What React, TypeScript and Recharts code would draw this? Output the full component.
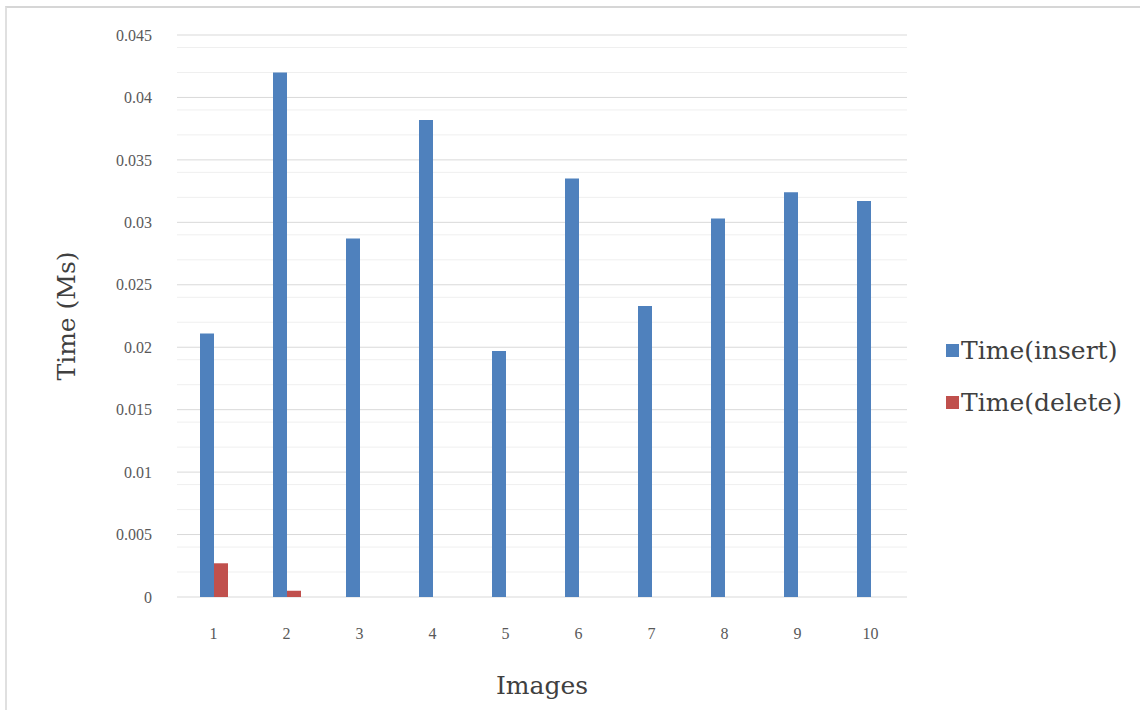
import React from 'react';
import { BarChart, Bar, CartesianGrid, XAxis, YAxis, Legend } from 'recharts';

const images = ['1', '2', '3', '4', '5', '6', '7', '8', '9', '10'];
const insertTimes = [0.0211, 0.042, 0.0287, 0.0382, 0.0197, 0.0335, 0.0233, 0.0303, 0.0324, 0.0317];
const deleteTimes = [0.0027, 0.0005, 0, 0, 0, 0, 0, 0, 0, 0];
const majorTicks = [0, 0.005, 0.01, 0.015, 0.02, 0.025, 0.03, 0.035, 0.04, 0.045];
const minorTicks = [
  0.001, 0.002, 0.003, 0.004, 0.006, 0.007, 0.008, 0.009,
  0.011, 0.012, 0.013, 0.014, 0.016, 0.017, 0.018, 0.019,
  0.021, 0.022, 0.023, 0.024, 0.026, 0.027, 0.028, 0.029,
  0.031, 0.032, 0.033, 0.034, 0.036, 0.037, 0.038, 0.039,
  0.041, 0.042, 0.043, 0.044,
];
const seriesNames = ['Time(insert)', 'Time(delete)'];

const data = images.map((name, i) => ({ name, insert: insertTimes[i], del: deleteTimes[i] }));

const BLUE = '#4F81BD';
const RED = '#C0504D';
const tickFont = { fontFamily: '"Liberation Serif", serif', fontSize: 16, fill: '#595959' };
const titleFont = '"DejaVu Serif", serif';

const fmt = (v: number) => String(Number(v.toFixed(3)));

// legend keeps series order (insert above delete)
function LegendBox({ payload }: any) {
  const items = [...(payload || [])].sort(
    (a: any, b: any) => seriesNames.indexOf(a.value) - seriesNames.indexOf(b.value)
  );
  return (
    <div style={{ fontFamily: titleFont, fontSize: 25, color: '#404040' }}>
      {items.map((p: any) => (
        <div key={p.value} style={{ display: 'flex', alignItems: 'center', height: 52, whiteSpace: 'nowrap' }}>
          <span style={{ width: 13, height: 13, background: p.color, display: 'inline-block', marginRight: 2 }} />
          <span>{p.value}</span>
        </div>
      ))}
    </div>
  );
}

export default function App() {
  return (
    <div style={{ position: 'absolute', left: 0, top: 0, width: 1140, height: 710, overflow: 'hidden', background: '#fff' }}>
      <BarChart width={1140} height={710} data={data} barGap={0} margin={{ top: 35, right: 233, bottom: 0, left: 0 }}>
        <CartesianGrid vertical={false} horizontalValues={minorTicks} stroke="#efefef" />
        <CartesianGrid vertical={false} horizontalValues={majorTicks} stroke="#d9d9d9" />
        <XAxis
          dataKey="name"
          height={113}
          axisLine={false}
          tickLine={false}
          tickSize={0}
          tickMargin={31}
          tick={tickFont}
          label={{ value: 'Images', position: 'insideBottom', offset: 16, style: { fontFamily: titleFont, fontSize: 25, fill: '#404040' } }}
        />
        <YAxis
          width={177}
          domain={[0, 0.045]}
          ticks={majorTicks}
          tickFormatter={fmt}
          axisLine={false}
          tickLine={false}
          tickSize={0}
          tickMargin={25}
          tick={tickFont}
          label={{ value: 'Time (Ms)', angle: -90, position: 'insideLeft', offset: 66, style: { textAnchor: 'middle', fontFamily: titleFont, fontSize: 25, fill: '#404040' } }}
        />
        <Legend
          layout="vertical"
          align="center"
          verticalAlign="middle"
          wrapperStyle={{ left: 946, top: 324, width: 194 }}
          content={<LegendBox />}
        />
        <Bar dataKey="insert" name={seriesNames[0]} fill={BLUE} barSize={14} isAnimationActive={false} />
        <Bar dataKey="del" name={seriesNames[1]} fill={RED} barSize={14} isAnimationActive={false} />
      </BarChart>
      {/* outer chart frame, open to the right and bottom */}
      <div style={{ position: 'absolute', left: 5, top: 6, width: 1160, height: 740, borderTop: '2px solid #d6d6d6', borderLeft: '2px solid #e0e0e0', pointerEvents: 'none' }} />
    </div>
  );
}
